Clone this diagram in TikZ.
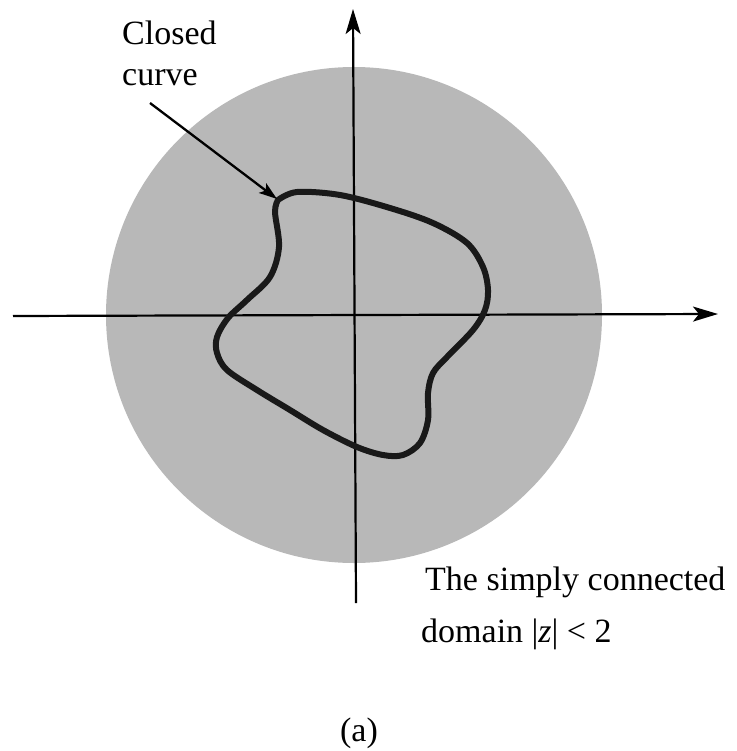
\documentclass[tikz,border=0pt]{standalone}
\usepackage{fontspec}
\setmainfont{Liberation Serif}
\usetikzlibrary{arrows.meta}
\begin{document}
\begin{tikzpicture}[x=1pt,y=-1pt,
  lbl/.style={anchor=base west,inner sep=0pt,font=\fontsize{34}{40}\selectfont},
  axis/.style={line width=2.2pt,-{Stealth[length=25pt,width=15pt,inset=6pt]}},
  domainfill/.style={fill=black!28,draw=none},
  curveline/.style={line width=6pt,line join=round,line cap=round,draw=black!90},
  pointer/.style={line width=2.3pt,-{Stealth[length=18pt,width=12pt,inset=4pt]}}]
\useasboundingbox (0,0) rectangle (736,751);
% domain |z|<2
\fill[domainfill] (354,315) circle[radius=248];
% axes
\coordinate (xl) at (13,316);
\coordinate (xr) at (718,314);
\coordinate (yb) at (356,603);
\coordinate (yt) at (353,9);
\draw[axis] (xl) -- (xr);
\draw[axis] (yb) -- (yt);
% closed curve
\draw[curveline] plot[smooth,tension=0.55] coordinates {
 (278,200) (297,192) (340,195) (390,208) (433,223) (467,243) (483,267)
 (488,290) (485,310) (473,330) (447,357) (433,373) (428,393) (428,420)
 (420,443) (403,455) (383,455) (357,447) (323,430) (290,410) (257,390)
 (227,370) (217,353) (217,337) (228,318) (247,300) (270,277) (279,247)
 (275,212) (278,200)};
% labels
\node[lbl] (closedA) at (122,45) {Closed};
\node[lbl] (closedB) at (122,86) {curve};
\coordinate (ptrstart) at (150,103);
\coordinate (ptrtip) at (277,199);
\draw[pointer] (ptrstart) -- (ptrtip);
\node[lbl] (domA) at (425,590) {The simply connected};
\node[lbl] (domB) at (421,642) {domain |\textit{z}| < 2};
\node[anchor=base,inner sep=0pt,font=\fontsize{34}{40}\selectfont] (cap) at (359,741) {(a)};
\end{tikzpicture}
\end{document}
